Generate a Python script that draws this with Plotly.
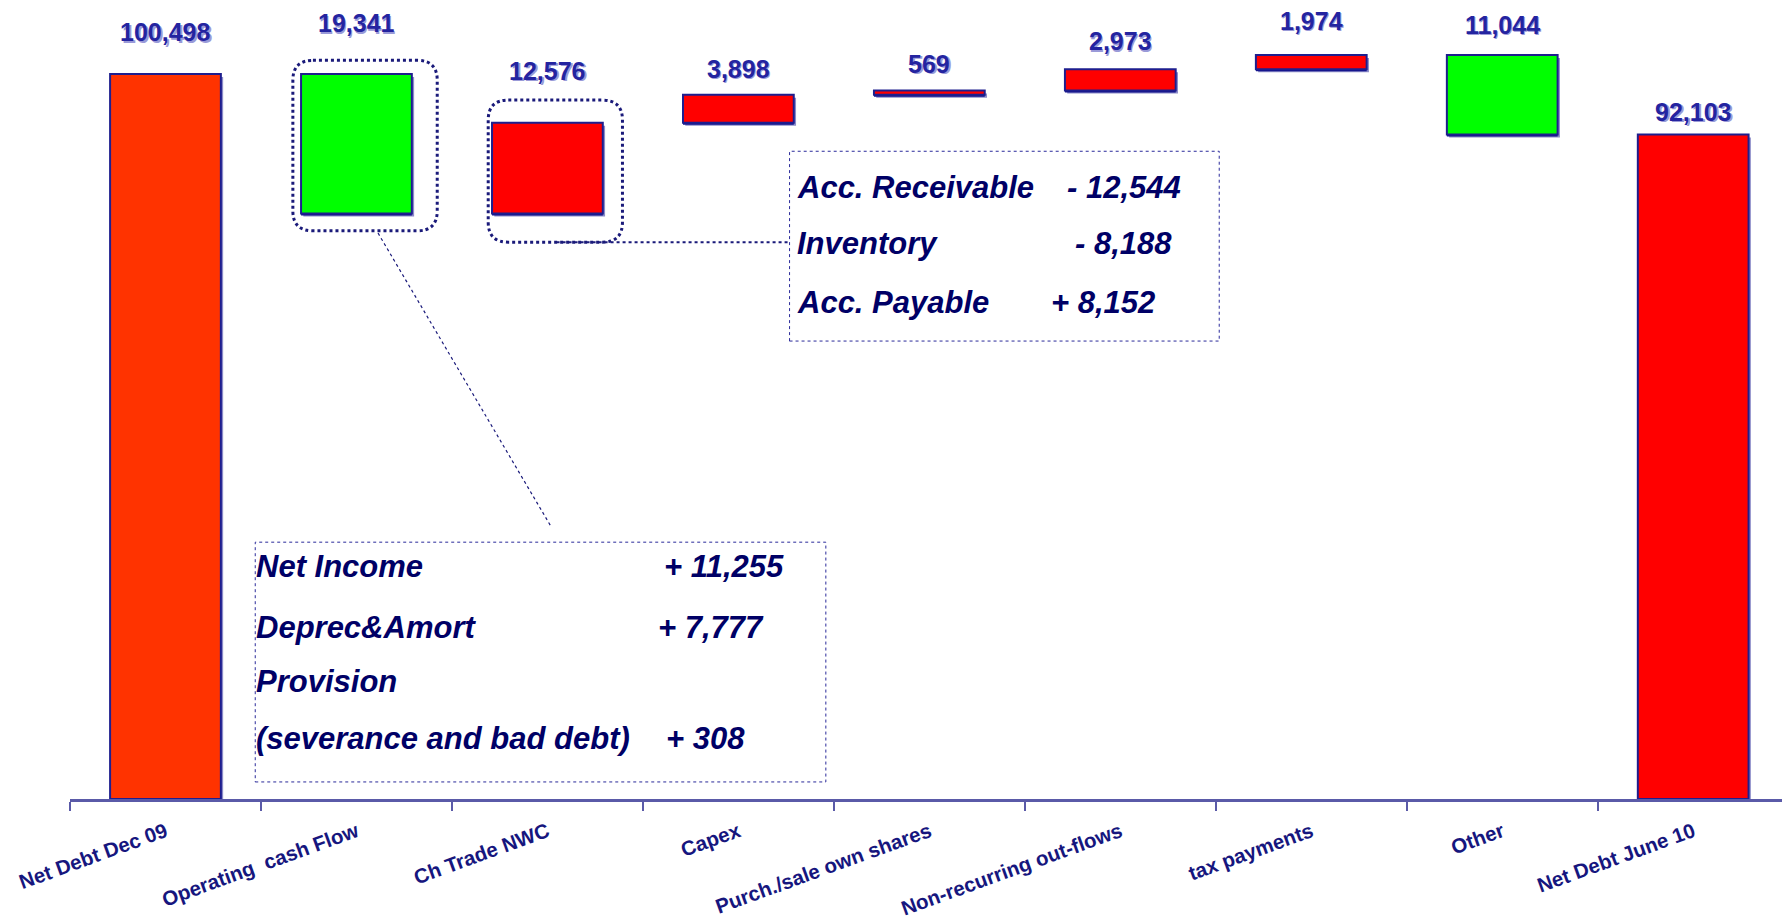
import plotly.graph_objects as go

# ---------------- data ----------------
categories = ["Net Debt Dec 09", "Operating  cash Flow", "Ch Trade NWC", "Capex",
              "Purch./sale own shares", "Non-recurring out-flows", "tax payments",
              "Other", "Net Debt June 10"]
values = [100498, -19341, 12576, 3898, 569, 2973, 1974, -11044, 92103]
is_total = [True, False, False, False, False, False, False, False, True]
bar_colors = ["#FF3300", "#00FF00", "#FF0000", "#FF0000", "#FF0000",
              "#FF0000", "#FF0000", "#00FF00", "#FF0000"]
label_yshift = [42, 51, 52, 26, 27, 28, 34, 30, 23]

nwc_lines = ["Acc. Receivable", "Inventory", "Acc. Payable"]
nwc_values = ["- 12,544", "- 8,188", "+ 8,152"]
ocf_lines = ["Net Income", "Deprec&Amort", "Provision", "(severance and bad debt)"]
ocf_values = ["+ 11,255", "+ 7,777", "", "+ 308"]

# ---------------- waterfall geometry via bases ----------------
bases, heights, tops = [], [], []
level = 0
for v, tot in zip(values, is_total):
    if tot:
        b, h = 0, v
        level = v
    else:
        new = level + v
        b, h = min(level, new), abs(v)
        level = new
    bases.append(b)
    heights.append(h)
    tops.append(b + h)

X_RANGE = [-0.5, 8.465]
Y_RANGE = [0, 110757]
PX_PER_Y = 725 / 100498.0
NAVY = "#000066"

fig = go.Figure()
# shadow
fig.add_trace(go.Bar(x=categories, y=heights, base=[b - 3 / PX_PER_Y for b in bases],
                     width=0.58, offset=-0.29 + 0.012,
                     marker=dict(color="#8C8CC8", line=dict(width=0)),
                     hoverinfo="skip", showlegend=False))
fig.add_trace(go.Bar(x=categories, y=heights, base=[b - 2 / PX_PER_Y for b in bases],
                     width=0.58, offset=-0.29,
                     marker=dict(color="#14148C", line=dict(width=0)),
                     hoverinfo="skip", showlegend=False))
fig.add_trace(go.Bar(x=categories, y=heights, base=bases, width=0.58, offset=-0.29,
                     marker=dict(color=bar_colors, line=dict(color="#1E1E8E", width=2)),
                     showlegend=False))
fig.add_trace(go.Scatter(x=[0], y=[0], xaxis="x2", yaxis="y", mode="markers",
                         marker=dict(opacity=0), hoverinfo="skip", showlegend=False))

annotations = []
LBL_FONT = "Liberation Sans, Arial"
for c, t, v, ys in zip(categories, tops, values, label_yshift):
    txt = f"<b>{abs(v):,}</b>"
    annotations.append(dict(x=c, y=t, xref="x", yref="y", text=txt, showarrow=False,
                            yshift=ys - 1.5, xshift=1.5,
                            font=dict(family=LBL_FONT, size=25, color="#9A9AD8"),
                            xanchor="center", yanchor="middle"))
    annotations.append(dict(x=c, y=t, xref="x", yref="y", text=txt, showarrow=False,
                            yshift=ys, font=dict(family=LBL_FONT, size=25, color="#2424A0"),
                            xanchor="center", yanchor="middle"))

TXT_FONT = dict(family="Liberation Sans, Arial", size=31, color=NAVY)
# NWC detail box text
nwc_y = [84750, 77030, 68840]
nwc_vx = [4.708, 4.75, 4.625]
for lab, val, yy, vx in zip(nwc_lines, nwc_values, nwc_y, nwc_vx):
    annotations.append(dict(x=3.298, y=yy, xref="x2", yref="y", text=f"<b><i>{lab}</i></b>",
                            showarrow=False, xanchor="left", yanchor="middle", font=TXT_FONT))
    annotations.append(dict(x=vx, y=yy, xref="x2", yref="y", text=f"<b><i>{val}</i></b>",
                            showarrow=False, xanchor="left", yanchor="middle", font=TXT_FONT))
# Operating cash flow detail box text
ocf_y = [32290, 23790, 16230, 8350]
ocf_vx = [2.601, 2.571, 2.6, 2.613]
for lab, val, yy, vx in zip(ocf_lines, ocf_values, ocf_y, ocf_vx):
    annotations.append(dict(x=0.462, y=yy, xref="x2", yref="y", text=f"<b><i>{lab}</i></b>",
                            showarrow=False, xanchor="left", yanchor="middle", font=TXT_FONT))
    if val:
        annotations.append(dict(x=vx, y=yy, xref="x2", yref="y", text=f"<b><i>{val}</i></b>",
                                showarrow=False, xanchor="left", yanchor="middle", font=TXT_FONT))


def rounded_rect(x0, x1, y0, y1, rx, ry):
    return (f"M {x0+rx},{y1} L {x1-rx},{y1} Q {x1},{y1} {x1},{y1-ry} "
            f"L {x1},{y0+ry} Q {x1},{y0} {x1-rx},{y0} L {x0+rx},{y0} "
            f"Q {x0},{y0} {x0},{y0+ry} L {x0},{y1-ry} Q {x0},{y1} {x0+rx},{y1} Z")

RX = 20 / 190.2
RY = 20 / PX_PER_Y
shapes = [
    # rounded dotted highlights
    dict(type="path", xref="x2", yref="y",
         path=rounded_rect(0.667, 1.423, 78760, 102390, RX, RY),
         line=dict(color="#1A1A7A", width=3, dash="dot")),
    dict(type="path", xref="x2", yref="y",
         path=rounded_rect(1.69, 2.393, 77190, 96880, RX, RY),
         line=dict(color="#1A1A7A", width=3, dash="dot")),
    # connector to NWC box
    dict(type="line", xref="x2", yref="y", x0=2.048, x1=3.268, y0=77190, y1=77190,
         line=dict(color="#1A1A7A", width=2, dash="dot")),
    # NWC detail box
    dict(type="rect", xref="x2", yref="y", x0=3.268, x1=5.518, y0=63480, y1=89790,
         line=dict(color="#2A2A9A", width=1, dash="dot")),
    # diagonal connector to OCF box
    dict(type="line", xref="x2", yref="y", x0=1.113, x1=2.018, y0=78450, y1=37810,
         line=dict(color="#1A1A7A", width=1.2, dash="dot")),
    # OCF detail box
    dict(type="rect", xref="x2", yref="y", x0=0.470, x1=3.458, y0=2363, y1=35600,
         line=dict(color="#2A2A9A", width=1, dash="dot")),
]

fig.update_layout(
    width=1782, height=923,
    margin=dict(l=70, r=0, t=0, b=124),
    paper_bgcolor="white", plot_bgcolor="white",
    barmode="overlay",
    xaxis=dict(type="category", range=X_RANGE, showline=True, linecolor="#5A5AA8",
               linewidth=3, ticks="outside", tickson="boundaries", ticklen=9,
               tickwidth=2, tickcolor="#5A5AA8", tickangle=-20, showgrid=False,
               zeroline=False, ticklabelstandoff=10, automargin=False,
               tickfont=dict(family="Liberation Sans, Arial", size=20.5, color="#16167E",
                             weight="bold")),
    xaxis2=dict(overlaying="x", range=X_RANGE, visible=False, anchor="y",
                automargin=False),
    yaxis=dict(range=Y_RANGE, visible=False, showgrid=False, zeroline=False,
               automargin=False),
    annotations=annotations,
    shapes=shapes,
)

fig.write_html("out.html")
